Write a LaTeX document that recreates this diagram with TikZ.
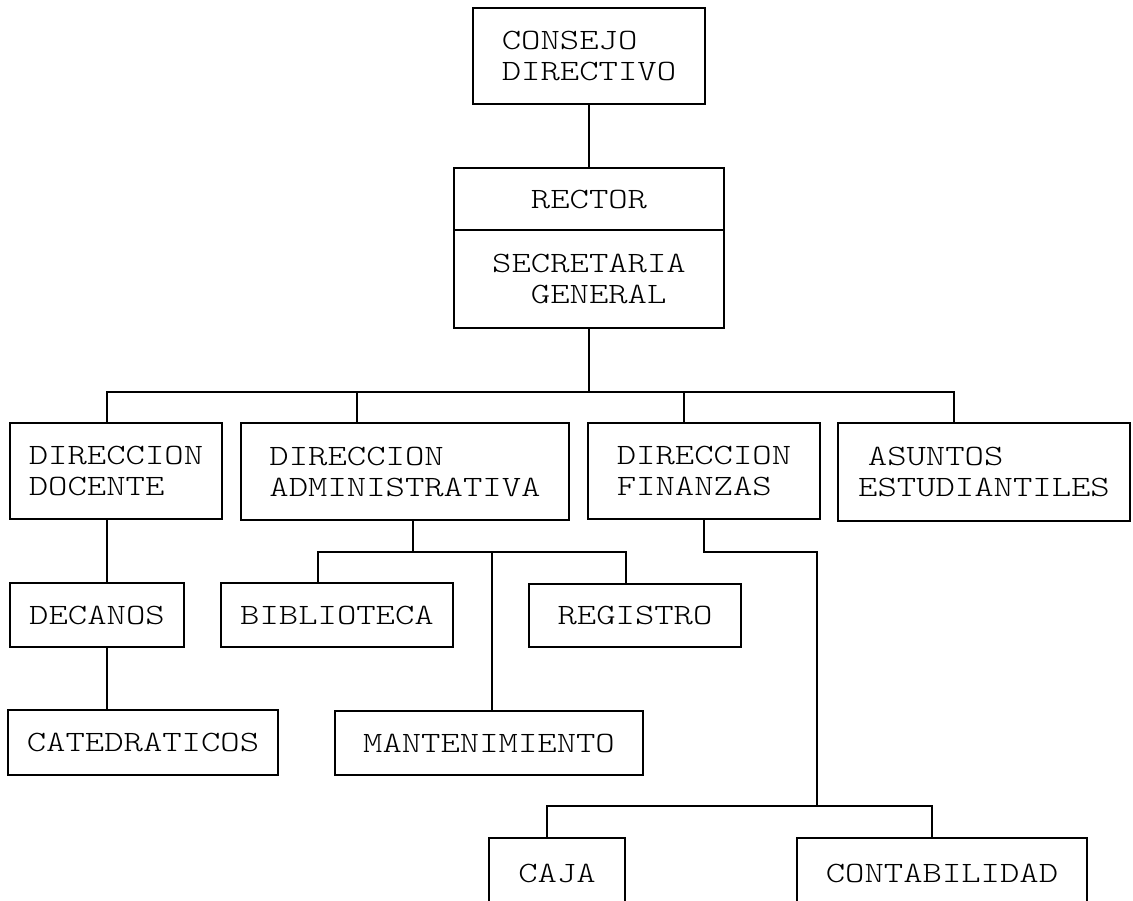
\documentclass[tikz,border=0pt]{standalone}
\usepackage{fontspec}
\newfontfamily\orgfont{lmmonolt10-regular.otf}[FakeStretch=1.25]
\usetikzlibrary{calc,positioning}

\begin{document}
\begin{tikzpicture}[x=1pt,y=-1pt,line width=1.8pt,
  box/.style={draw,inner sep=0pt,align=left,font=\orgfont\fontsize{29.5}{31}\selectfont},
  size/.style 2 args={minimum width=#1,minimum height=#2}]
\useasboundingbox (0,0) rectangle (1133,901);
% top of the chart
\node[box,size={232}{96}] (consejo) at (589,56) {CONSEJO\\DIRECTIVO};
\node[box,size={270}{62},align=center] (rector) at (589,199) {RECTOR};
\node[box,size={270}{98}] (secretaria) at (589,279) {SECRETARIA\\\phantom{SE}GENERAL};
% direcciones
\node[box,size={212}{96}] (docente) at (116,471) {DIRECCION\\DOCENTE};
\node[box,size={328}{97}] (admin) at (405,471.5) {DIRECCION\\ADMINISTRATIVA};
\node[box,size={232}{96}] (finanzas) at (704,471) {DIRECCION\\FINANZAS};
\node[box,size={292}{98}] (asuntos) at (984,472) {\hspace*{.33em}ASUNTOS\\ESTUDIANTILES};
% lower levels
\node[box,size={174}{64}] (decanos) at (97,615) {DECANOS};
\node[box,size={232}{64}] (biblioteca) at (337,615) {BIBLIOTECA};
\node[box,size={212}{63}] (registro) at (635,615.5) {REGISTRO};
\node[box,size={270}{65}] (catedraticos) at (143,742.5) {CATEDRATICOS};
\node[box,size={308}{64}] (mantenimiento) at (489,743) {MANTENIMIENTO};
\node[box,size={136}{70}] (caja) at (557,873) {CAJA};
\node[box,size={290}{70}] (contabilidad) at (942,873) {CONTABILIDAD};

% junctions and columns
\coordinate (bus) at (589,392);
\coordinate (adminbus) at (413,552);
\coordinate (finbend) at (817,552);
\coordinate (finbus) at (817,806);
\coordinate (colA) at (107,0);
\coordinate (colB) at (357,0);
\coordinate (colF) at (684,0);
\coordinate (colS) at (954,0);
\coordinate (colBib) at (318,0);
\coordinate (colReg) at (626,0);
\coordinate (colMan) at (492,0);
\coordinate (colC) at (547,0);
\coordinate (colK) at (932,0);

\draw (consejo.south) -- (consejo.south |- rector.north);
\draw (secretaria.south) -- (bus);
\foreach \n/\c in {docente/colA, admin/colB, finanzas/colF, asuntos/colS}
  \draw (\n.north -| \c) |- (bus);
\draw (docente.south -| colA) -- (decanos.north -| colA);
\draw (decanos.south -| colA) -- (catedraticos.north -| colA);
\draw (admin.south -| adminbus) -- (adminbus);
\foreach \n/\c in {biblioteca/colBib, registro/colReg, mantenimiento/colMan}
  \draw (\n.north -| \c) |- (adminbus);
\draw (finanzas.south) |- (finbend) -- (finbus);
\draw (caja.north -| colC) |- (finbus);
\draw (contabilidad.north -| colK) |- (finbus);
\end{tikzpicture}
\end{document}
